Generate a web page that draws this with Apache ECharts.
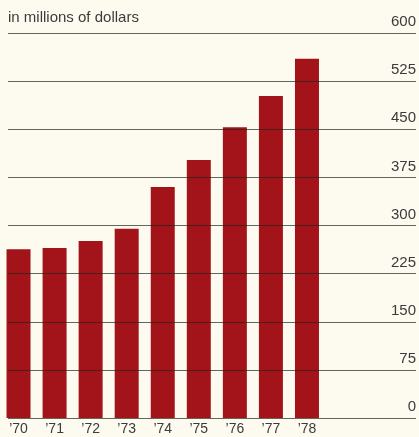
<!DOCTYPE html>
<html>
<head>
<meta charset="utf-8">
<script src="https://cdn.jsdelivr.net/npm/echarts@6/dist/echarts.min.js"></script>
<style>
  html, body { margin: 0; padding: 0; background: #fdfbf0; }
  #chart { width: 419px; height: 437px; }
</style>
</head>
<body>
<div id="chart"></div>
<script>
// Annual totals, 1970–1978, in millions of dollars
const years = ['\u201970', '\u201971', '\u201972', '\u201973', '\u201974', '\u201975', '\u201976', '\u201977', '\u201978'];
const amounts = [263, 265, 276, 295, 360, 402, 453, 502, 560];
const scaleTicks = [0, 75, 150, 225, 300, 375, 450, 525, 600];
const scaleMin = 0;
const scaleMax = 600;
const scaleStep = 75;

const font = 'Liberation Sans, Arial, sans-serif';
const textColor = '#3b3b3b';

const chart = echarts.init(document.getElementById('chart'), null, { renderer: 'canvas' });

chart.setOption({
  backgroundColor: '#fdfbf0',
  animation: false,
  title: {
    text: 'in millions of dollars',
    left: 8,
    top: 10,
    padding: 0,
    textStyle: { fontFamily: font, fontSize: 15, fontWeight: 'normal', color: textColor }
  },
  grid: [
    // full-width grid carrying the horizontal rules and the scale on the right
    { left: 8, right: 2, top: 33, height: 385 },
    // narrower grid holding the bars
    { left: 0.5, width: 324.5, top: 33, height: 385 }
  ],
  xAxis: [
    { gridIndex: 0, type: 'category', data: years, show: false },
    {
      gridIndex: 1,
      type: 'category',
      data: years,
      axisLine: { show: false },
      axisTick: { show: false },
      axisLabel: { margin: 4, fontFamily: font, fontSize: 14, color: textColor }
    }
  ],
  yAxis: [
    {
      gridIndex: 0,
      type: 'value',
      position: 'right',
      min: scaleMin,
      max: scaleMax,
      interval: scaleStep,
      axisLine: { show: false },
      axisTick: { show: false },
      splitLine: { show: false },
      axisLabel: {
        inside: true,
        margin: 0,
        verticalAlign: 'bottom',
        lineHeight: 16,
        padding: [0, 0, 3, 0],
        fontFamily: font,
        fontSize: 15,
        color: textColor
      }
    },
    {
      gridIndex: 1,
      type: 'value',
      min: scaleMin,
      max: scaleMax,
      interval: scaleStep,
      show: false,
      splitLine: { show: false }
    }
  ],
  series: [
    {
      type: 'bar',
      xAxisIndex: 1,
      yAxisIndex: 1,
      z: 2,
      data: amounts,
      barWidth: 24,
      itemStyle: { color: '#a2131a' }
    },
    {
      // horizontal rules printed across the bars
      type: 'line',
      xAxisIndex: 0,
      yAxisIndex: 0,
      z: 4,
      data: [],
      silent: true,
      markLine: {
        silent: true,
        symbol: 'none',
        label: { show: false },
        lineStyle: { type: 'solid', color: '#22261c', opacity: 0.7, width: 1.2 },
        emphasis: { disabled: true },
        data: scaleTicks.map(v => ({ yAxis: v }))
      }
    }
  ]
});
</script>
</body>
</html>
